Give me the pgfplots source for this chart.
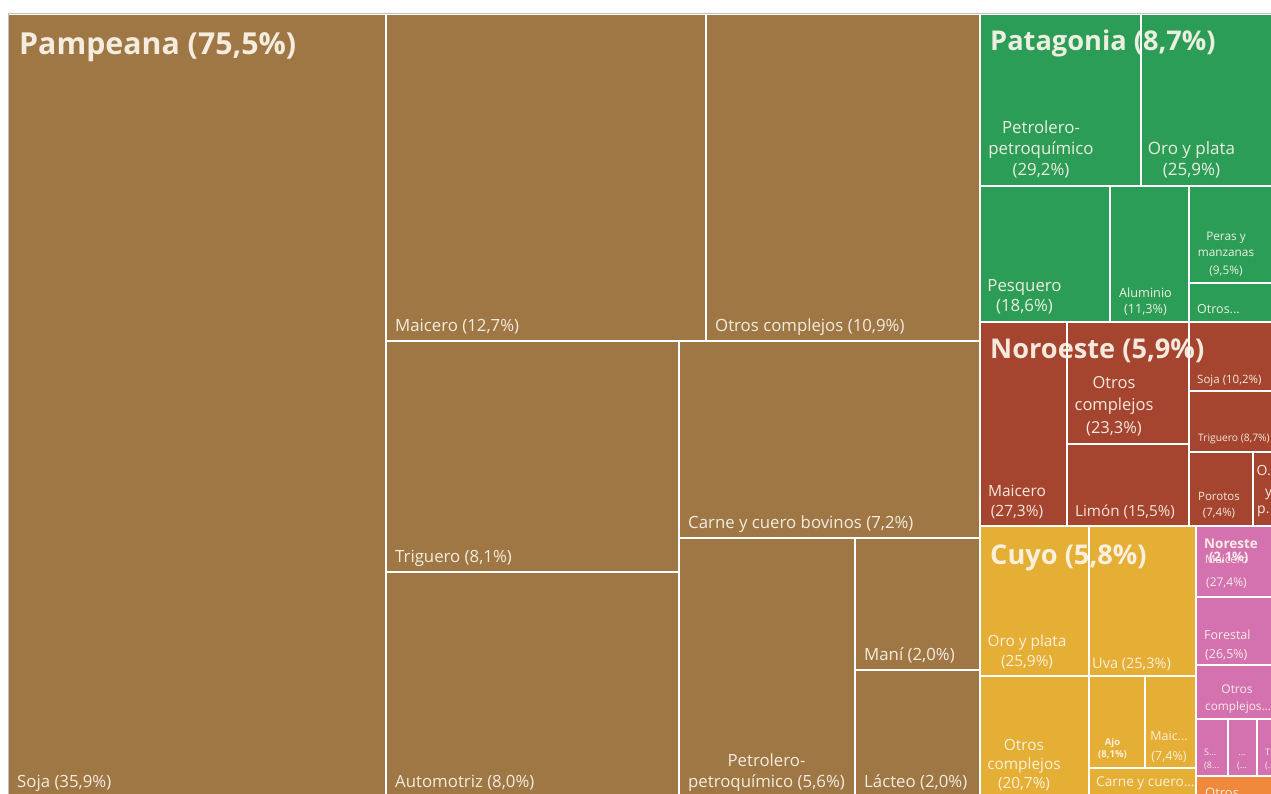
\documentclass[border=0pt]{standalone}
\usepackage{fontspec}
\setmainfont{Open Sans}
\usepackage{pgfplots}
\pgfplotsset{compat=1.18}
\definecolor{cBrown}{RGB}{158,119,69}
\definecolor{cGreen}{RGB}{44,157,86}
\definecolor{cRed}{RGB}{165,69,48}
\definecolor{cYellow}{RGB}{229,174,52}
\definecolor{cPink}{RGB}{212,114,176}
\definecolor{cOrange}{RGB}{240,137,60}
\definecolor{cText}{RGB}{252,246,236}
\newcommand{\cell}[5]{\addplot[fill=#1, draw=white, line width=2pt, forget plot] coordinates {(#2,#3) (#4,#3) (#4,#5) (#2,#5)} -- cycle;}
\newcommand{\lb}[5][base west]{\node[anchor=#1,inner sep=0pt,text=cText,text opacity=0.92,font=\fontsize{#4}{#4}\selectfont] at (axis cs:#2,#3) {#5};}
\begin{document}
\begin{tikzpicture}
\begin{axis}[scale only axis, width=1271pt, height=793pt,
  xmin=0, xmax=1271, ymin=0, ymax=793, y dir=reverse, hide axis, clip=true]
\addplot[fill=white, draw=none, forget plot] coordinates {(0,0) (1271,0) (1271,793) (0,793)} -- cycle;
% Pampeana
\cell{cBrown}{8}{14}{386}{805}
\cell{cBrown}{386}{14}{706}{341}
\cell{cBrown}{706}{14}{980}{341}
\cell{cBrown}{386}{341}{679}{572}
\cell{cBrown}{386}{572}{679}{805}
\cell{cBrown}{679}{341}{980}{538}
\cell{cBrown}{679}{538}{855}{805}
\cell{cBrown}{855}{538}{980}{670}
\cell{cBrown}{855}{670}{980}{805}
% Patagonia
\cell{cGreen}{980}{14}{1141}{186}
\cell{cGreen}{1141}{14}{1290}{186}
\cell{cGreen}{980}{186}{1110}{322}
\cell{cGreen}{1110}{186}{1189}{322}
\cell{cGreen}{1189}{186}{1290}{283}
\cell{cGreen}{1189}{283}{1290}{322}
% Noroeste
\cell{cRed}{980}{322}{1067}{526}
\cell{cRed}{1067}{322}{1189}{444}
\cell{cRed}{1067}{444}{1189}{526}
\cell{cRed}{1189}{322}{1290}{391}
\cell{cRed}{1189}{391}{1290}{452}
\cell{cRed}{1189}{452}{1253}{526}
\cell{cRed}{1253}{452}{1290}{526}
% Cuyo
\cell{cYellow}{980}{526}{1089}{676}
\cell{cYellow}{1089}{526}{1196}{676}
\cell{cYellow}{980}{676}{1089}{805}
\cell{cYellow}{1089}{676}{1145}{768}
\cell{cYellow}{1145}{676}{1196}{768}
\cell{cYellow}{1089}{768}{1196}{805}
% Noreste
\cell{cPink}{1196}{526}{1290}{597}
\cell{cPink}{1196}{597}{1290}{665}
\cell{cPink}{1196}{665}{1290}{719}
\cell{cPink}{1196}{719}{1228}{776}
\cell{cPink}{1228}{719}{1256.5}{776}
\cell{cPink}{1256.5}{719}{1290}{776}
% Otros
\cell{cOrange}{1196}{776}{1290}{805}
% frame
\addplot[black!25, line width=1pt, forget plot] coordinates {(8.5,805) (8.5,13.5) (1290,13.5)};
% labels Pampeana
\lb{19}{54}{30.3}{\bfseries Pampeana (75,5\%)}
\lb{17}{787}{16.8}{Soja (35,9\%)}
\lb{395}{331}{16.8}{Maicero (12,7\%)}
\lb{715}{331}{16.8}{Otros complejos (10,9\%)}
\lb{395}{562}{16.8}{Triguero (8,1\%)}
\lb{688}{528}{16.8}{Carne y cuero bovinos (7,2\%)}
\lb{395}{787}{16.8}{Automotriz (8,0\%)}
\lb[base]{766.5}{766}{16.8}{Petrolero-}
\lb[base]{766.5}{787}{16.8}{petroquímico (5,6\%)}
\lb{864}{660}{16.8}{Maní (2,0\%)}
\lb{864}{787}{16.8}{Lácteo (2,0\%)}
% Patagonia
\lb{990}{50}{27.2}{\bfseries Patagonia (8,7\%)}
\lb[base]{1041}{133}{16.8}{Petrolero-}
\lb[base]{1041}{154}{16.8}{petroquímico}
\lb[base]{1041}{175}{16.8}{(29,2\%)}
\lb[base]{1191.5}{154}{17}{Oro y plata}
\lb[base]{1191.5}{175}{17}{(25,9\%)}
\lb[base]{1024.5}{291.5}{16.8}{Pesquero}
\lb[base]{1024.5}{311.5}{16.8}{(18,6\%)}
\lb[base]{1145.5}{297.5}{12.7}{Aluminio}
\lb[base]{1145.5}{313}{12.7}{(11,3\%)}
\lb[base]{1226}{240}{11.8}{Peras y}
\lb[base]{1226}{256.5}{11.8}{manzanas}
\lb[base]{1226}{274}{11.8}{(9,5\%)}
\lb{1197}{313}{12.5}{Otros...}
% Noroeste
\lb{990}{358}{27.2}{\bfseries Noroeste (5,9\%)}
\lb[base]{1114}{388}{16.5}{Otros}
\lb[base]{1114}{410.5}{16.5}{complejos}
\lb[base]{1114}{433}{16.5}{(23,3\%)}
\lb[base]{1017}{496.5}{15.5}{Maicero}
\lb[base]{1017}{516.5}{15.5}{(27,3\%)}
\lb{1075}{516.5}{15.2}{Limón (15,5\%)}
\lb{1197}{383}{11.5}{Soja (10,2\%)}
\lb{1198}{441.5}{10.3}{Triguero (8,7\%)}
\lb[base]{1219}{500}{11.5}{Porotos}
\lb[base]{1219}{516.5}{11.5}{(7,4\%)}
\lb{1256.5}{475}{14}{O.}
\lb{1265}{496.5}{14}{y}
\lb{1257}{513}{14}{p.}
% Cuyo
\lb{990}{564}{27.2}{\bfseries Cuyo (5,8\%)}
\lb[base]{1027}{646.5}{15.4}{Oro y plata}
\lb[base]{1027}{666.5}{15.4}{(25,9\%)}
\lb{1092}{668}{14.5}{Uva (25,3\%)}
\lb[base]{1024}{750}{15.4}{Otros}
\lb[base]{1024}{769}{15.4}{complejos}
\lb[base]{1024}{788}{15.4}{(20,7\%)}
\lb[base]{1112.5}{745}{9.5}{\bfseries Ajo}
\lb[base]{1112.5}{757.5}{9.5}{\bfseries (8,1\%)}
\lb[base]{1169}{740.5}{12.5}{Maic...}
\lb[base]{1169}{760}{12.5}{(7,4\%)}
\lb{1096}{786.5}{13.6}{Carne y cuero...}
% Noreste
\lb{1204}{548}{13.5}{\bfseries Noreste}
\lb{1205}{563}{11.5}{Maicero}
\lb{1209}{561.5}{13}{\bfseries (2,1\%)}
\lb{1206}{586.5}{12}{(27,4\%)}
\lb{1204}{639}{12.5}{Forestal}
\lb{1205}{658}{12.5}{(26,5\%)}
\lb[base]{1237}{693}{12}{Otros}
\lb{1205}{710}{11.8}{complejos...}
\lb{1204}{755}{9}{S...}
\lb{1204}{768}{9}{(8...}
\lb[base]{1242}{755}{9}{...}
\lb[base]{1242}{768}{9}{(...}
\lb{1265}{755}{9}{T}
\lb{1265}{768}{9}{(...}
\lb{1205}{797}{13}{Otros...}
\end{axis}
\pgfresetboundingbox
\path[use as bounding box] (current axis.south west) rectangle (current axis.north east);
\end{tikzpicture}
\end{document}
